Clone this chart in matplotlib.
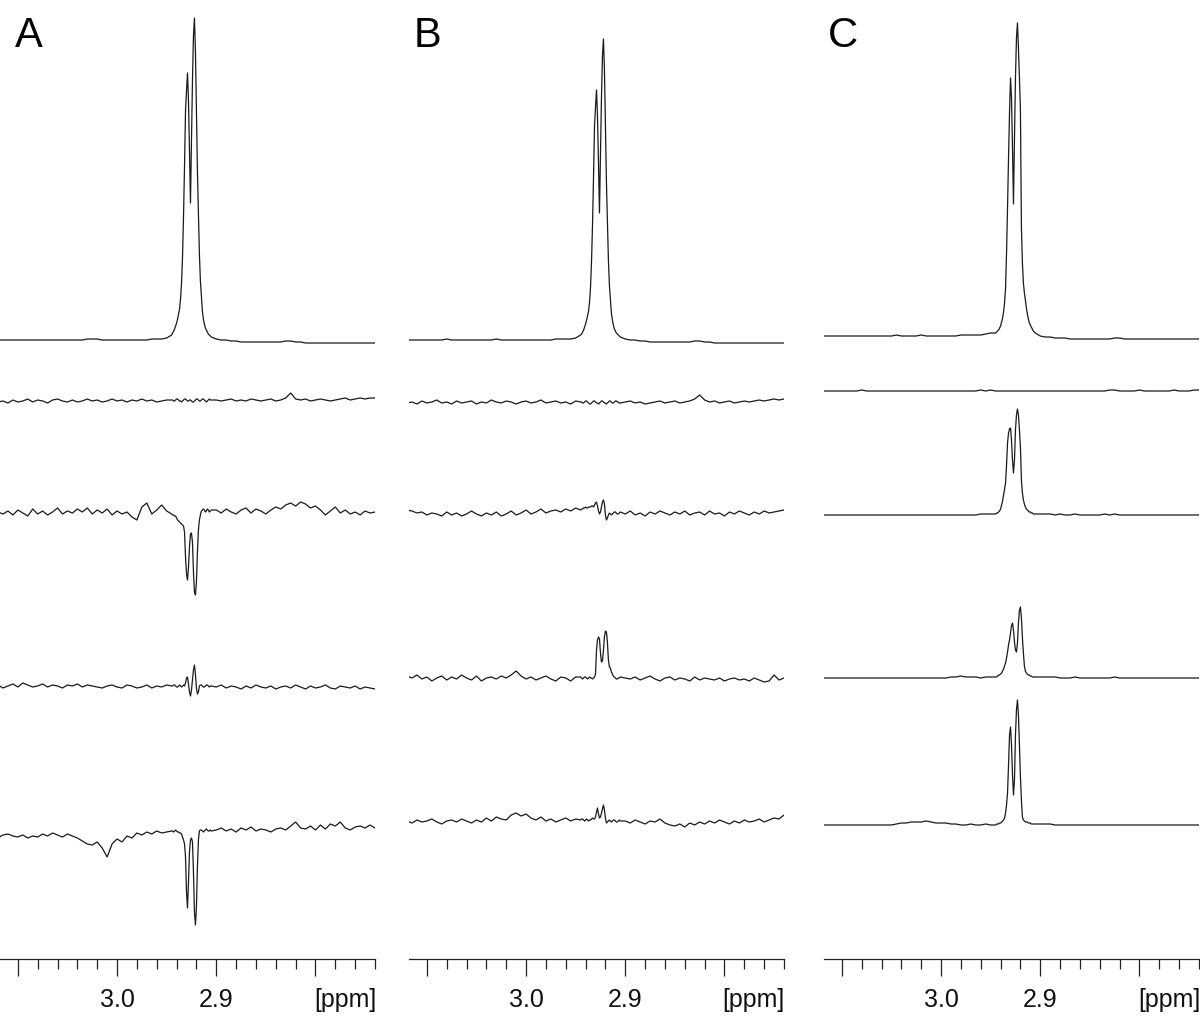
import numpy as np
import matplotlib
matplotlib.use('Agg')
import matplotlib.pyplot as plt
from matplotlib.ticker import FixedLocator, FixedFormatter

plt.rcParams['font.family'] = ['Liberation Sans', 'DejaVu Sans']

# ppm grid: coarse on the wings, fine across the doublet
ppm_left = np.linspace(3.120, 2.950, 35)
ppm_mid = np.linspace(2.945, 2.905, 41)
ppm_right = np.linspace(2.900, 2.740, 33)
ppm = np.concatenate((ppm_left, ppm_mid, ppm_right))

# intensities (arb. units), top trace first
a1 = [1,1,1,1,1,1,1,1,1,1, 1,1,1,1,1,1,1,1,2,2, 2,1,1,1,1,1,1,1,1,1, 1,2,2,2,3] + \
     [6,8,10,12,15,18,22,27,32,42, 58,85,125,175,230,250,268,240,190,138, 200,260,305,323,290,231,170,128,87,60, 45,30,22,17,13,11,9,7,6,5, 4] + \
     [2,1,1,0,0,-1,-1,-1,-1,-1, -1,-1,-1,-1,0,0,-1,-1,-2,-2, -2,-2,-2,-2,-2,-2,-2,-2,-2,-2, -2,-2,-2]
a2 = [-2,-1,-3,0,-2,-1,1,-2,0,-1, -3,0,1,-1,-2,0,-2,-1,1,-1, 0,-2,-1,1,-1,0,-2,0,-1,1, -1,0,-2,-1,0] + \
     [0,0,-1,-1,0,1,1,0,-1,-1, -2,-1,0,1,1,0,-1,-1,0,0, -1,-2,-2,-1,0,1,1,0,-1,-1, 0,1,1,0,-1,-2,-1,0,1,0, 0] + \
     [0,-1,0,1,-1,0,-1,1,0,-1, 0,1,-1,0,2,7,1,0,1,-1, 0,1,0,-1,0,1,2,0,1,2, 1,2,2]
a3 = [0,-2,1,-3,2,-1,-4,3,-2,1, -3,0,4,-2,1,-1,3,0,4,-2, 2,-1,3,-3,1,-2,0,-5,-8,5, 9,-2,2,7,1] + \
     [-2,-3,-3,-4,-4,-6,-8,-9,-10,-11, -12,-13,-14,-20,-45,-62,-68,-55,-35,-22, -21,-30,-60,-80,-83,-70,-40,-18,-8,-3, 1,2,3,2,0,1,3,2,0,1, 2] + \
     [2,-1,3,0,-2,2,4,-1,3,1, -2,2,5,3,7,9,6,10,8,4, 6,2,-3,1,5,-1,2,-2,0,-3, 1,-1,0]
a4 = [1,-2,0,2,-1,3,1,-1,0,2, -1,1,0,-2,1,0,2,-1,1,0, -1,-2,0,1,-1,-2,1,0,-2,-1, 1,-2,0,-1,1] + \
     [0,0,1,1,0,-1,-1,0,1,0, -1,0,1,0,3,8,9,2,-6,-10, -4,6,16,21,12,-2,-8,-6,0,1, 1,0,-1,-1,0,1,1,0,-1,0, 0] + \
     [-1,1,-2,0,-1,-3,0,-2,1,-1, -2,0,-3,-1,0,-2,1,-1,-3,0, -2,-1,1,-2,-3,0,-1,-2,0,-3, -1,-2,-3]
a5 = [-6,-3,-2,-4,-5,-3,-6,-4,-5,-2, -4,-1,-3,-5,-2,-4,-6,-9,-12,-13, -10,-16,-25,-12,-7,-10,-4,-6,-1,-3, 0,-2,1,-1,0] + \
     [1,1,0,1,2,1,0,0,-1,-1, -2,-5,-8,-12,-25,-60,-76,-50,-20,-8, -6,-10,-40,-80,-93,-75,-35,-8,1,2, 2,1,0,1,2,3,2,1,1,2, 1] + \
     [2,4,1,3,0,4,2,5,1,3, 2,0,3,4,2,6,10,4,3,6, 2,7,3,8,6,10,4,2,5,6, 4,7,4]

b1 = [1,1,1,1,1,1,1,1,2,1, 1,1,1,1,1,1,1,1,2,1, 1,1,1,1,1,1,1,1,1,1, 2,2,2,2,3] + \
     [6,7,9,11,14,17,21,25,30,39, 54,80,117,164,215,234,251,225,178,128, 187,243,285,302,271,216,159,120,81,56, 42,28,21,16,12,10,8,7,6,5, 4] + \
     [2,1,1,0,0,-1,-1,-1,-1,-1, -1,-1,-1,-1,0,0,-1,-1,-2,-2, -2,-2,-2,-2,-2,-2,-2,-2,-2,-2, -2,-2,-2]
b2 = [-1,0,-2,1,-1,0,2,-1,0,-2, 1,-1,0,1,-2,0,-1,2,0,-1, 1,0,-2,0,1,-1,0,2,-1,0, 1,-1,0,-2,1] + \
     [0,0,-1,-1,0,1,1,0,-1,-2, -2,-1,0,1,1,0,-1,-1,-2,-1, 0,1,1,0,-1,-1,-2,-1,0,1, 1,0,-1,-1,0,1,1,0,0,-1, -1] + \
     [0,1,-1,0,-2,-1,0,1,-1,0, 1,-1,0,1,3,7,2,0,1,-1, 0,1,-1,0,1,0,1,2,1,2, 3,2,3]
b3 = [3,2,0,1,-2,0,-1,-3,1,-2, 0,-3,-1,2,-1,-3,0,-2,1,-3, -1,2,-2,0,3,-1,1,4,0,2, 3,1,4,2,5] + \
     [3,4,4,5,5,6,5,5,6,6, 6,7,7,6,8,10,11,7,2,-1, 1,6,11,13,9,-2,-7,-5,-2,0, -1,-2,-1,0,1,1,0,-1,-1,0, 1] + \
     [-1,2,-2,0,-3,1,-1,2,0,-2, 1,-1,2,-2,0,1,-2,2,-1,0, -3,1,-1,2,0,-2,1,-1,2,0, 1,2,3]
b4 = [2,0,3,-1,1,-3,0,2,-2,1, -1,3,0,-2,2,-3,0,1,-1,2, 0,3,7,2,-1,1,-2,0,2,-1, -3,1,0,-3,1] + \
     [1,0,-1,0,1,1,0,-1,0,1, 0,0,-1,0,1,4,28,38,41,39, 25,16,17,28,41,47,46,36,18,11, 10,6,4,2,1,0,-1,-1,0,0, 1] + \
     [0,-1,1,-2,0,2,-1,-3,0,1, -2,0,-1,-3,1,-2,0,-1,-2,0, -3,-1,0,-2,-1,-3,0,-2,-4,-3, 3,-2,0]
b5 = [0,-2,1,-1,0,2,-1,-3,0,1, -1,2,0,-2,1,-1,3,0,4,2, 1,6,8,5,7,3,1,4,0,2, -1,1,3,0,2] + \
     [1,2,2,1,0,1,2,1,0,1, 1,2,3,2,2,4,9,13,7,3, 4,8,12,16,11,3,-2,-1,0,1, 0,-1,0,1,1,0,-1,-1,0,1, 0] + \
     [0,-2,1,-1,-3,0,-1,2,-2,-4, -5,-3,-6,-2,-4,-1,-3,0,-2,1, -1,-3,0,-2,1,-1,0,2,-1,1, 3,2,6]

c1 = [2,2,2,2,2,2,2,2,2,2, 2,2,2,2,2,3,2,2,2,2, 3,2,2,2,2,2,2,2,3,3, 3,3,3,4,5] + \
     [5,6,7,8,10,12,16,20,26,35, 50,85,130,180,225,260,240,190,134,200, 260,300,315,290,260,228,110,75,55,45, 38,30,24,19,15,13,11,9,7,6, 5] + \
     [2,1,1,0,0,0,-1,-1,-1,-1, -1,-1,-1,-1,-1,0,0,-1,-1,-1, -1,-1,-1,-1,-1,-1,-1,-1,-1,-1, -1,-1,-1]
c2 = [0,0,0,0,0,0,0,0,1,0, 0,0,0,0,0,0,0,0,0,0, 0,0,0,0,0,0,0,0,0,0, 0,0,1,0,1] + \
     [0,0,0,0,0,0,0,0,0,0, 0,0,0,0,0,0,0,0,0,0, 0,0,0,0,0,0,0,0,0,0, 0,0,0,0,0,0,0,0,0,0, 0] + \
     [0,0,0,0,0,0,0,0,0,0, 0,0,0,0,1,1,0,0,0,0, 1,0,0,0,0,0,0,1,0,0, 0,1,1]
c3 = [0,0,0,0,0,0,0,0,0,0, 0,0,0,0,0,0,0,0,0,0, 0,0,0,0,0,0,0,0,0,0, 0,0,1,1,1] + \
     [1,2,2,3,4,6,10,14,20,26, 32,50,72,82,86,87,75,55,42,55, 85,100,106,100,85,68,35,22,15,11, 8,6,5,4,3,3,2,2,1,1, 1] + \
     [1,1,1,0,1,0,0,1,0,0, 0,0,0,1,0,1,0,0,0,0, 0,0,0,0,0,0,0,0,0,0, 0,0,0]
c4 = [0,0,0,0,0,0,0,0,0,0, 0,0,0,0,0,0,0,0,0,0, 0,0,0,0,0,0,1,1,2,1, 1,1,0,1,1] + \
     [1,1,2,3,3,4,5,7,9,12, 15,20,26,33,38,45,52,55,48,36, 28,26,35,55,68,71,60,40,25,12, 7,5,4,3,3,2,2,1,1,1, 1] + \
     [1,1,1,1,0,0,0,1,0,0, 0,0,0,0,0,1,0,0,0,0, 0,0,0,0,0,0,0,0,0,0, 0,0,0]
c5 = [0,0,0,0,0,0,0,0,0,0, 0,0,0,0,0,1,2,2,3,3, 3,4,3,2,2,2,1,1,0,0, 1,0,0,1,0] + \
     [0,1,1,1,2,2,3,4,5,7, 12,20,32,60,90,98,80,50,30,45, 90,115,125,110,80,48,25,8,5,4, 3,3,3,2,2,2,1,1,1,1, 1] + \
     [1,1,1,0,0,0,0,0,0,0, 0,0,0,0,0,0,0,0,0,0, 0,0,0,0,0,0,0,0,0,0, 0,0,0]

panel_labels = ['A', 'B', 'C']
major_ticks = [3.1, 3.0, 2.9, 2.8]
major_labels = ['', '3.0', '2.9', '']
minor_ticks = np.round(np.arange(2.74, 3.11, 0.02), 2)

# layout (pixels of the 1200x1018 canvas)
panel_left = [0, 409, 824]
label_x = [15, 414, 828]
stack_offsets = [[618, 559, 447, 273, 127],
                 [618, 557, 446, 281, 138],
                 [621, 568, 444, 281, 134]]

traces = [[a1, a2, a3, a4, a5], [b1, b2, b3, b4, b5], [c1, c2, c3, c4, c5]]

W, H = 1200, 1018
axis_y = 959
fig = plt.figure(figsize=(W / 100, H / 100), dpi=100)

for p in range(3):
    ax = fig.add_axes([panel_left[p] / W, (H - axis_y) / H, 375 / W, axis_y / H])
    for y, off in zip(traces[p], stack_offsets[p]):
        ax.plot(ppm, np.asarray(y) + off, color='#1a1a1a', lw=0.9)
    ax.set_xlim(3.118, 2.740)
    ax.set_ylim(0, axis_y)
    for s in ['left', 'right', 'top']:
        ax.spines[s].set_visible(False)
    ax.spines['bottom'].set_color('#222222')
    ax.spines['bottom'].set_linewidth(0.9)
    ax.set_yticks([])
    ax.xaxis.set_major_locator(FixedLocator(major_ticks))
    ax.xaxis.set_major_formatter(FixedFormatter(major_labels))
    ax.xaxis.set_minor_locator(FixedLocator(minor_ticks))
    ax.tick_params(axis='x', which='major', length=12, width=0.9, pad=9,
                   labelsize=18, color='#222222', labelcolor='#111111')
    ax.tick_params(axis='x', which='minor', length=7, width=0.9, color='#222222')
    ax.annotate('[ppm]', xy=(1, 0), xycoords='axes fraction', xytext=(1, -41),
                textcoords='offset pixels', ha='right', va='center',
                fontsize=18, color='#111111')
    fig.text(label_x[p] / W, 1 - 47 / H, panel_labels[p], fontsize=30,
             ha='left', va='baseline', color='black')

fig.savefig('out.png', dpi=100)
